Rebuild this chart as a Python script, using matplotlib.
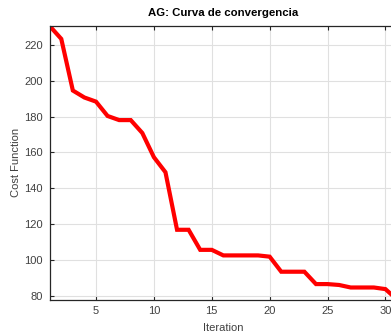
import matplotlib
matplotlib.use("Agg")
import matplotlib.pyplot as plt

iterations = list(range(1, 32))
cost = [230.5, 223.3, 194.5, 190.6, 188.3, 180.3, 178.0, 178.0, 170.8, 157.3,
        148.9, 116.8, 116.8, 105.6, 105.6, 102.5, 102.5, 102.5, 102.5, 101.8,
        93.4, 93.4, 93.4, 86.5, 86.5, 86.0, 84.6, 84.6, 84.6, 83.7, 77.9]
xticks = [5, 10, 15, 20, 25, 30]
yticks = [80, 100, 120, 140, 160, 180, 200, 220]

plt.rcParams['font.family'] = ['Liberation Sans', 'DejaVu Sans']

fig = plt.figure(figsize=(3.91, 3.34), dpi=100)
W, H = 391, 334
left, right, top, bottom = 49.7, 397.0, 26.0, 299.5
ax = fig.add_axes([left / W, 1 - bottom / H, (right - left) / W, (bottom - top) / H])

ax.plot(iterations, cost, color='#ff0000', linewidth=3.0, solid_joinstyle='miter', clip_on=True)
ax.set_xlim(1, 31)
ax.set_ylim(77.9, 230.5)
ax.set_xticks(xticks)
ax.set_yticks(yticks)

axc = '#262626'
ax.grid(True, color='#e0e0e0', linewidth=0.8)
ax.set_axisbelow(True)
for s in ax.spines.values():
    s.set_color(axc)
    s.set_linewidth(0.9)
ax.tick_params(axis='both', direction='in', length=3, width=0.8, colors=axc,
               labelsize=8, top=True, right=True, pad=5)
for lbl in ax.get_xticklabels() + ax.get_yticklabels():
    lbl.set_color('#404040')

ax.set_title('AG: Curva de convergencia', fontsize=8.2, fontweight='bold', color='#000000', pad=7)
ax.set_xlabel('Iteration', fontsize=8, color='#404040', labelpad=5)
ax.set_ylabel('Cost Function', fontsize=8, color='#404040', labelpad=2)

fig.savefig('out.png', dpi=100)
